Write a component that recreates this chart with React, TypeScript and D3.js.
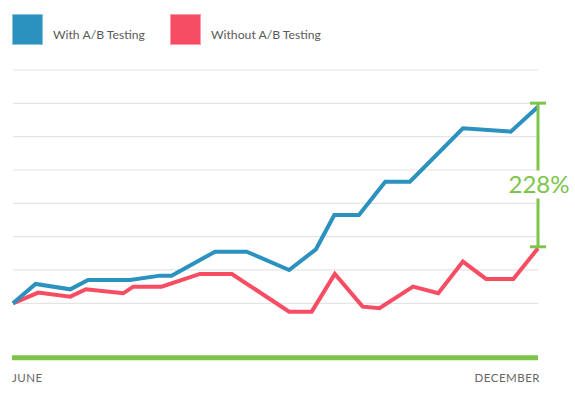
import React from "react";
import * as d3 from "d3";

// x positions as percent of the June→December period
const withX = [0, 4.3, 10.9, 14.3, 22.3, 28, 30.2, 38.5, 44.5, 52.6, 57.7, 61.2, 65.9, 70.9, 75.6, 85.7, 94.8, 100];
const withY = [0, 0.58, 0.42, 0.7, 0.7, 0.83, 0.83, 1.55, 1.55, 1.0, 1.62, 2.65, 2.65, 3.65, 3.65, 5.25, 5.15, 5.9];
const withoutX = [0, 4.8, 10.9, 13.9, 21, 22.9, 28.3, 35.6, 41.7, 52.6, 56.9, 61.3, 66.6, 69.8, 76.2, 81, 85.7, 90.1, 95.3, 100];
const withoutY = [0, 0.32, 0.2, 0.42, 0.3, 0.5, 0.5, 0.88, 0.88, -0.25, -0.25, 0.88, -0.1, -0.15, 0.5, 0.3, 1.25, 0.73, 0.73, 1.65];
const gridValues = [0, 1, 2, 3, 4, 5, 6, 7];
const xTickLabels = ["JUNE", "DECEMBER"];
const seriesNames = ["With A/B Testing", "Without A/B Testing"];
const annotationLabel = "228%";

const BLUE = "#2b91bf";
const RED = "#f74d63";
const GREEN = "#7cc54a";

export default function App() {
  const W = 575, H = 398;
  const x = d3.scaleLinear().domain([0, 100]).range([13, 538]);
  const y = d3.scaleLinear().domain([0, 7]).range([303.3, 70]);
  const baseV = -1.63;

  const line = d3.line<[number, number]>().x(d => x(d[0])).y(d => y(d[1]));
  const withPts = withX.map((v, i) => [v, withY[i]] as [number, number]);
  const withoutPts = withoutX.map((v, i) => [v, withoutY[i]] as [number, number]);

  const endX = x(100);
  const topY = y(withY[withY.length - 1]);
  const botY = y(withoutY[withoutY.length - 1]);
  const midY = (topY + botY) / 2;
  const font = "Lato, 'Open Sans', sans-serif";

  return (
    <svg width={W} height={H} style={{ position: "absolute", left: 0, top: 0, background: "#fff" }}>
      {/* legend */}
      {seriesNames.map((n, i) => {
        const lx = i === 0 ? 12 : 170;
        return (
          <g key={n}>
            <rect x={lx + 0.5} y={14.5} width={30} height={30} fill={i === 0 ? BLUE : RED} stroke={i === 0 ? "#8cc3dc" : "#fb9aa6"} strokeWidth={1} />
            <text x={lx + 41} y={38.5} fontFamily={font} fontSize={12.2} fill="#5a5a5a">{n}</text>
          </g>
        );
      })}
      {/* grid */}
      {gridValues.map(v => (
        <line key={v} x1={13} x2={538} y1={y(v)} y2={y(v)} stroke="#e5e5e5" strokeWidth={1.2} />
      ))}
      {/* baseline */}
      <line x1={12} x2={538} y1={y(baseV)} y2={y(baseV)} stroke={GREEN} strokeWidth={5} />
      <text x={12} y={382} fontFamily={font} fontSize={11.5} letterSpacing={0.5} fill="#666">{xTickLabels[0]}</text>
      <text x={540} y={382} textAnchor="end" fontFamily={font} fontSize={11.5} letterSpacing={0.5} fill="#666">{xTickLabels[1]}</text>
      {/* lines */}
      <path d={line(withoutPts) || ""} fill="none" stroke={RED} strokeWidth={4} strokeLinejoin="miter" />
      <path d={line(withPts) || ""} fill="none" stroke={BLUE} strokeWidth={4} strokeLinejoin="miter" />
      {/* annotation */}
      <g stroke={GREEN} strokeWidth={3}>
        <line x1={endX} x2={endX} y1={topY - 3.5} y2={midY - 7} />
        <line x1={endX} x2={endX} y1={midY + 21} y2={botY - 1.5} />
        <line x1={endX - 8} x2={endX + 8} y1={topY - 3.5} y2={topY - 3.5} />
        <line x1={endX - 8} x2={endX + 8} y1={botY - 1.5} y2={botY - 1.5} />
      </g>
      <text x={endX + 1} y={midY + 15.5} textAnchor="middle" fontFamily={font} fontWeight={400} fontSize={24} fill={GREEN}>{annotationLabel}</text>
    </svg>
  );
}
